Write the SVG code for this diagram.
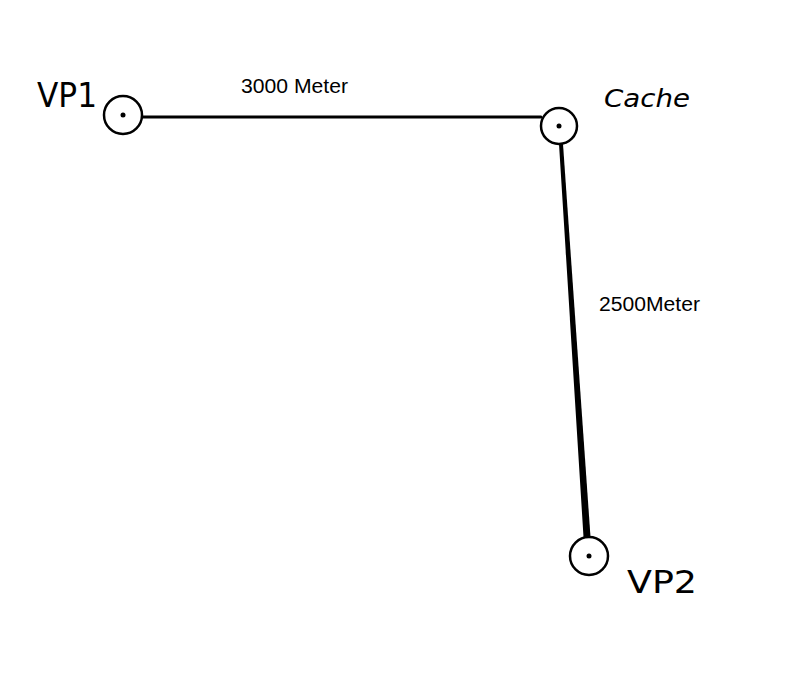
<svg xmlns="http://www.w3.org/2000/svg" width="800" height="695" viewBox="0 0 800 695">
<style>
.node circle.ring{fill:#fff;stroke:#000;stroke-width:2.5}
.node circle.dot{fill:#000}
.hand{font-family:"DejaVu Sans","Liberation Sans",sans-serif;fill:#000}
.lbl{font-family:"Liberation Sans",Arial,sans-serif;font-size:20.5px;fill:#000}
.edge{stroke:#000;fill:none;stroke-linecap:round}
</style>
<rect width="800" height="695" fill="#fff"/>
<g id="connectors">
<line class="edge" x1="142" y1="117" x2="541" y2="117" stroke-width="3"/>
<polygon points="559,144 563,144 590.5,537 583.5,537" fill="#000"/>
<text class="lbl" x="241" y="93" textLength="107" lengthAdjust="spacingAndGlyphs">3000 Meter</text>
<text class="lbl" x="599" y="311" textLength="101" lengthAdjust="spacingAndGlyphs">2500Meter</text>
</g>
<g id="vp1" class="node">
<circle class="ring" cx="123" cy="115" r="19"/>
<circle class="dot" cx="123" cy="115" r="2.5"/>
<text class="hand" x="37" y="107" font-size="33" textLength="60" lengthAdjust="spacingAndGlyphs">VP1</text>
</g>
<g id="cache" class="node">
<circle class="ring" cx="559" cy="126" r="18"/>
<circle class="dot" cx="559" cy="126" r="2.5"/>
<text class="hand" x="604" y="107" font-size="24" font-style="italic" textLength="86" lengthAdjust="spacingAndGlyphs">Cache</text>
</g>
<g id="vp2" class="node">
<circle class="ring" cx="589" cy="556" r="19"/>
<circle class="dot" cx="589" cy="556" r="2.5"/>
<text class="hand" x="627" y="593" font-size="32" textLength="70" lengthAdjust="spacingAndGlyphs">VP2</text>
</g>
</svg>
